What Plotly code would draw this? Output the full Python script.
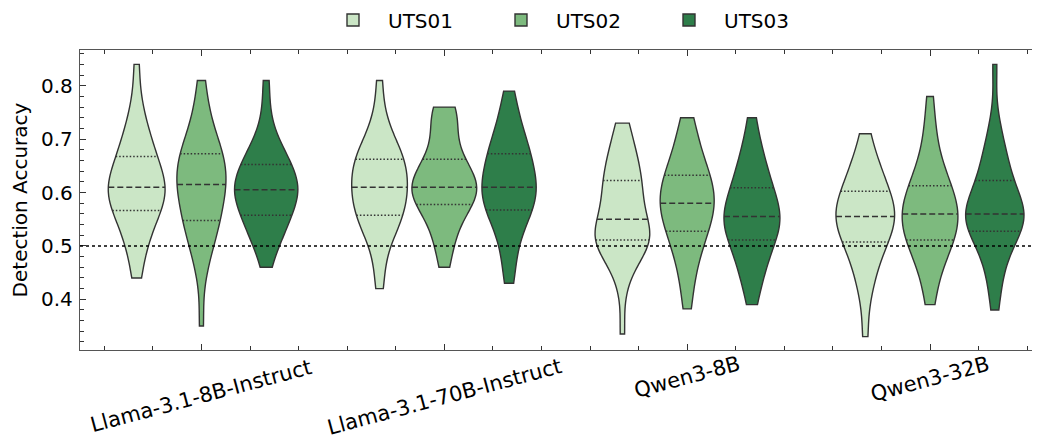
import numpy as np
import plotly.graph_objects as go

models = ["Llama-3.1-8B-Instruct", "Llama-3.1-70B-Instruct", "Qwen3-8B", "Qwen3-32B"]
series = ["UTS01", "UTS02", "UTS03"]
colors = ["#cbe6c6", "#7dba7e", "#2e7e4a"]
y_ticks = [0.4, 0.5, 0.6, 0.7, 0.8]
chance_level = 0.5

# Detection accuracy samples
llama8_uts01 = [0.44, 0.47, 0.50, 0.52, 0.53, 0.54, 0.55, 0.565, 0.57, 0.58, 0.59, 0.59, 0.60, 0.60, 0.61,
                0.61, 0.62, 0.62, 0.63, 0.64, 0.65, 0.66, 0.67, 0.68, 0.69, 0.70, 0.72, 0.74, 0.77, 0.84]
llama8_uts02 = [0.35, 0.45, 0.48, 0.50, 0.52, 0.53, 0.54, 0.545, 0.555, 0.57, 0.58, 0.59, 0.60, 0.61, 0.61,
                0.62, 0.63, 0.63, 0.64, 0.65, 0.66, 0.665, 0.675, 0.68, 0.69, 0.70, 0.72, 0.74, 0.77, 0.81]
llama8_uts03 = [0.46, 0.49, 0.51, 0.52, 0.53, 0.54, 0.55, 0.555, 0.565, 0.57, 0.58, 0.59, 0.595, 0.60, 0.60,
                0.61, 0.61, 0.62, 0.62, 0.63, 0.64, 0.645, 0.655, 0.66, 0.67, 0.68, 0.69, 0.71, 0.75, 0.81]
llama70_uts01 = [0.42, 0.46, 0.50, 0.52, 0.53, 0.54, 0.55, 0.555, 0.565, 0.57, 0.58, 0.59, 0.595, 0.60, 0.61,
                 0.61, 0.62, 0.63, 0.64, 0.645, 0.65, 0.655, 0.665, 0.67, 0.68, 0.69, 0.70, 0.72, 0.75, 0.81]
llama70_uts02 = [0.46, 0.49, 0.51, 0.53, 0.545, 0.555, 0.565, 0.575, 0.585, 0.59, 0.595, 0.60, 0.605, 0.605, 0.61,
                 0.61, 0.62, 0.625, 0.635, 0.64, 0.65, 0.655, 0.665, 0.68, 0.70, 0.72, 0.735, 0.75, 0.76, 0.76]
llama70_uts03 = [0.43, 0.46, 0.49, 0.52, 0.53, 0.545, 0.555, 0.565, 0.575, 0.58, 0.59, 0.595, 0.60, 0.605, 0.605,
                 0.615, 0.625, 0.635, 0.645, 0.65, 0.66, 0.665, 0.675, 0.685, 0.695, 0.705, 0.72, 0.74, 0.76, 0.79]
qwen8_uts01 = [0.335, 0.43, 0.46, 0.48, 0.49, 0.50, 0.505, 0.51, 0.515, 0.515, 0.52, 0.52, 0.525, 0.53, 0.54,
               0.56, 0.57, 0.58, 0.59, 0.60, 0.61, 0.615, 0.625, 0.64, 0.65, 0.66, 0.67, 0.69, 0.71, 0.73]
qwen8_uts02 = [0.382, 0.42, 0.45, 0.47, 0.49, 0.50, 0.51, 0.525, 0.535, 0.54, 0.55, 0.56, 0.565, 0.57, 0.575,
               0.585, 0.59, 0.60, 0.605, 0.61, 0.62, 0.625, 0.635, 0.645, 0.655, 0.665, 0.68, 0.70, 0.72, 0.74]
qwen8_uts03 = [0.39, 0.42, 0.44, 0.46, 0.47, 0.48, 0.49, 0.51, 0.515, 0.52, 0.53, 0.535, 0.54, 0.545, 0.55,
               0.56, 0.565, 0.57, 0.58, 0.585, 0.595, 0.605, 0.61, 0.625, 0.635, 0.65, 0.66, 0.68, 0.70, 0.74]
qwen32_uts01 = [0.33, 0.40, 0.43, 0.45, 0.47, 0.48, 0.49, 0.505, 0.515, 0.52, 0.53, 0.535, 0.54, 0.545, 0.55,
                0.56, 0.565, 0.57, 0.575, 0.58, 0.59, 0.595, 0.605, 0.615, 0.625, 0.635, 0.645, 0.66, 0.68, 0.71]
qwen32_uts02 = [0.39, 0.42, 0.45, 0.47, 0.48, 0.49, 0.50, 0.51, 0.515, 0.525, 0.53, 0.54, 0.545, 0.55, 0.555,
                0.565, 0.57, 0.575, 0.58, 0.59, 0.60, 0.605, 0.615, 0.625, 0.64, 0.65, 0.67, 0.70, 0.73, 0.78]
qwen32_uts03 = [0.38, 0.42, 0.45, 0.47, 0.49, 0.50, 0.515, 0.525, 0.535, 0.54, 0.545, 0.55, 0.555, 0.555, 0.56,
                0.56, 0.565, 0.57, 0.58, 0.59, 0.60, 0.615, 0.625, 0.635, 0.65, 0.66, 0.68, 0.70, 0.73, 0.84]

data = {
    "UTS01": [llama8_uts01, llama70_uts01, qwen8_uts01, qwen32_uts01],
    "UTS02": [llama8_uts02, llama70_uts02, qwen8_uts02, qwen32_uts02],
    "UTS03": [llama8_uts03, llama70_uts03, qwen8_uts03, qwen32_uts03],
}

EDGE = "#333333"
FONT = "DejaVu Sans"
FS = 20
FS_X = 21
VGAP = 0.2
BW_ADJ = 0.9
n_series = len(series)
bd_pos = 0.5 * (1 - VGAP) / n_series           # plotly half-width of each violin slot
offsets = [2 * 0.5 * (-0.5 + (i + 0.5) / n_series) * (1 - VGAP) for i in range(n_series)]

# figure geometry (page body adds an 8px offset)
W, H = 1032, 427
ML, MR, MT, MB = 72, 0, 42, 85
plot_h = H - MT - MB
plot_w = W - ML - MR


def scott_bw(v):
    v = np.asarray(v)
    return float(BW_ADJ * np.std(v, ddof=1) * len(v) ** (-0.2))


def kde(v, bw, t):
    v = np.asarray(v)
    t = np.atleast_1d(np.asarray(t, dtype=float))
    z = (t[:, None] - v[None, :]) / bw
    return np.exp(-0.5 * z * z).sum(axis=1) / (len(v) * bw * np.sqrt(2 * np.pi))


def plotly_grid_max(v, bw):
    lo, hi = min(v), max(v)
    dist = hi - lo
    n = int(np.ceil(dist / (bw / 3)))
    step = dist / n
    t = lo + step * np.arange(n + 1)
    return float(kde(v, bw, t).max())


max_kde = max(plotly_grid_max(v, scott_bw(v)) for s in series for v in data[s])

fig = go.Figure()

for si, s in enumerate(series):
    for mi, v in enumerate(data[s]):
        fig.add_trace(go.Violin(
            x=[mi] * len(v), y=v, name=s, legendgroup=s, showlegend=(mi == 0),
            offsetgroup=s, alignmentgroup="a",
            fillcolor=colors[si], opacity=1,
            line=dict(color=EDGE, width=1.4),
            spanmode="hard", scalemode="count", scalegroup="all",
            bandwidth=scott_bw(v),
            points=False, box=dict(visible=False), meanline=dict(visible=False),
            hoveron="violins",
        ))

# inner quartile lines (seaborn inner="quart")
for si, s in enumerate(series):
    med_x, med_y, q_x, q_y = [], [], [], []
    for mi, v in enumerate(data[s]):
        bw = scott_bw(v)
        q1, med, q3 = np.percentile(v, [25, 50, 75])
        c = mi + offsets[si]
        for q, tx, ty in ((q1, q_x, q_y), (med, med_x, med_y), (q3, q_x, q_y)):
            hw = float(kde(v, bw, q)[0]) / max_kde * bd_pos
            tx += [c - hw, c + hw, None]
            ty += [q, q, None]
    fig.add_trace(go.Scatter(x=med_x, y=med_y, mode="lines", showlegend=False, hoverinfo="skip",
                             line=dict(color=EDGE, width=1.5, dash="6px,3px")))
    fig.add_trace(go.Scatter(x=q_x, y=q_y, mode="lines", showlegend=False, hoverinfo="skip",
                             line=dict(color=EDGE, width=1.5, dash="1.5px,2px")))

fig.add_hline(y=chance_level, line=dict(color="black", width=1.5, dash="dot"))

# rotated category labels, centred under each group (bbox top just below the axis)
ang = np.deg2rad(15)
for mi, m in enumerate(models):
    tw = 0.52 * FS_X * len(m)
    bbox_h = tw * np.sin(ang) + FS_X * 1.0 * np.cos(ang)
    cy = plot_h + 6 + bbox_h / 2          # px below plot top
    fig.add_annotation(x=mi, xref="x", y=1 - cy / plot_h, yref="paper", text=m, showarrow=False,
                       textangle=-15, xanchor="center", yanchor="middle",
                       font=dict(family=FONT, size=FS_X, color="black"))

fig.update_layout(
    width=W, height=H,
    margin=dict(l=ML, r=MR, t=MT, b=MB, autoexpand=False),
    paper_bgcolor="white", plot_bgcolor="white",
    violinmode="group", violingap=VGAP, violingroupgap=0,
    font=dict(family=FONT, size=FS, color="black"),
    showlegend=True,
    legend=dict(orientation="h", x=(310 - ML) / plot_w, xanchor="left",
                y=1 + (MT - 12) / plot_h, yanchor="middle",
                itemwidth=60, entrywidth=93, entrywidthmode="pixels",
                font=dict(family=FONT, size=FS), bgcolor="rgba(0,0,0,0)"),
)
fig.update_xaxes(
    range=[-0.5, 3.4527], showticklabels=False, showgrid=False, zeroline=False, automargin=False,
    tickmode="linear", tick0=0, dtick=1, ticks="inside", ticklen=6, tickwidth=1.2, tickcolor="#333",
    minor=dict(ticks="inside", dtick=0.2, tick0=0, ticklen=3.5, tickwidth=1, tickcolor="#333"),
    showline=True, linecolor="#555", linewidth=1.3, mirror="allticks",
)
fig.update_yaxes(
    range=[0.305, 0.867], showgrid=False, zeroline=False, automargin=False,
    tickmode="array", tickvals=y_ticks, tickformat=".1f", ticks="inside", ticklen=6, tickwidth=1.2,
    tickcolor="#333", ticklabelstandoff=2,
    minor=dict(ticks="inside", dtick=0.02, tick0=0, ticklen=3.5, tickwidth=1, tickcolor="#333"),
    showline=True, linecolor="#555", linewidth=1.3, mirror=False,
    title=dict(text="Detection Accuracy", standoff=10, font=dict(family=FONT, size=FS)),
    tickfont=dict(family=FONT, size=FS),
)

fig.write_html("out.html")
